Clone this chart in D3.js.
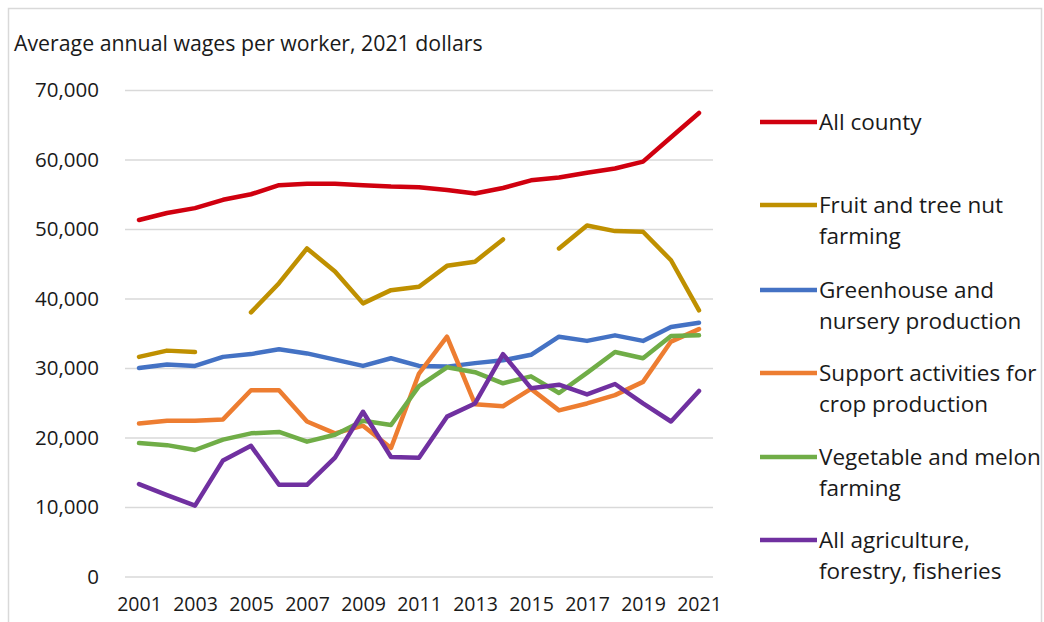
<!DOCTYPE html>
<html>
<head>
<meta charset="utf-8">
<script src="https://cdn.jsdelivr.net/npm/d3@7"></script>
<style>
  html, body { margin: 0; padding: 0; background: #fff; }
  svg { display: block; }
  text { font-family: "Open Sans", Lato, sans-serif; fill: #1a1a1a; }
</style>
</head>
<body>
<svg id="chart" width="1044" height="622"></svg>
<script>
// Years on the category axis
const years = d3.range(2001, 2022);
const yTicks = [0, 10000, 20000, 30000, 40000, 50000, 60000, 70000];

// Average annual wages per worker (2021 dollars); null = not reported
const allCounty = [51300, 52300, 53000, 54200, 55000, 56300, 56500, 56500, 56300, 56100,
                   56000, 55600, 55100, 55900, 57000, 57400, 58100, 58700, 59700, 63200, 66700];
const fruitTreeNut = [31600, 32500, 32300, null, 38000, 42200, 47200, 43900, 39300, 41200,
                      41700, 44700, 45300, 48500, null, 47200, 50500, 49700, 49600, 45500, 38300];
const greenhouse = [30000, 30500, 30300, 31600, 32000, 32700, 32100, 31200, 30300, 31400,
                    30300, 30200, 30700, 31100, 31900, 34500, 33900, 34700, 33900, 35900, 36500];
const supportCrop = [22000, 22400, 22400, 22600, 26800, 26800, 22300, 20600, 21700, 18500,
                     29200, 34500, 24800, 24500, 27000, 23900, 24900, 26100, 28000, 33800, 35600];
const vegetableMelon = [19200, 18900, 18200, 19700, 20600, 20800, 19400, 20400, 22400, 21800,
                        27400, 30100, 29400, 27800, 28800, 26400, 29300, 32300, 31400, 34600, 34700];
const allAgriculture = [13300, 11700, 10200, 16700, 18800, 13200, 13200, 17100, 23700, 17200,
                        17100, 23000, 24900, 32000, 27100, 27600, 26200, 27700, 24900, 22300, 26700];

const series = [
  { name: ["All county"], values: allCounty, color: "#d0000f" },
  { name: ["Fruit and tree nut", "farming"], values: fruitTreeNut, color: "#bf9000" },
  { name: ["Greenhouse and", "nursery production"], values: greenhouse, color: "#4472c4" },
  { name: ["Support activities for", "crop production"], values: supportCrop, color: "#ed7d31" },
  { name: ["Vegetable and melon", "farming"], values: vegetableMelon, color: "#70ad47" },
  { name: ["All agriculture,", "forestry, fisheries"], values: allAgriculture, color: "#7030a0" }
];

const svg = d3.select("#chart");

// Outer chart frame
svg.append("rect")
  .attr("x", 8.5).attr("y", 8.5)
  .attr("width", 1033).attr("height", 640)
  .attr("fill", "#fff")
  .attr("stroke", "#d9d9d9").attr("stroke-width", 1.5);

const plot = { left: 125, right: 713, top: 90, bottom: 576.5 };

const x = d3.scalePoint()
  .domain(years)
  .range([plot.left, plot.right])
  .padding(0.5);

const y = d3.scaleLinear()
  .domain([0, 70000])
  .range([plot.bottom, plot.top]);

// Title
svg.append("text")
  .attr("x", 14).attr("y", 51)
  .style("font-size", "21.3px")
  .text("Average annual wages per worker, 2021 dollars");

// Horizontal gridlines + y labels
const yAxis = d3.axisLeft(y)
  .tickValues(yTicks)
  .tickSize(-(plot.right - plot.left))
  .tickPadding(26)
  .tickFormat(d3.format(","));

const gy = svg.append("g")
  .attr("transform", `translate(${plot.left},0)`)
  .call(yAxis);
gy.select(".domain").remove();
gy.selectAll(".tick line").attr("stroke", "#d9d9d9").attr("stroke-width", 1.5);
gy.selectAll(".tick text")
  .style("font-size", "20.5px")
  .attr("fill", "#1a1a1a");

// Category axis labels (every other year)
const xAxis = d3.axisBottom(x)
  .tickValues(years.filter((d, i) => i % 2 === 0))
  .tickSize(0)
  .tickPadding(21)
  .tickFormat(d3.format("d"));

const gx = svg.append("g")
  .attr("transform", `translate(0,${plot.bottom})`)
  .call(xAxis);
gx.select(".domain").remove();
gx.selectAll(".tick text")
  .style("font-size", "19.5px")
  .attr("fill", "#1a1a1a");

// Series lines
const line = d3.line()
  .defined(d => d.v !== null)
  .x(d => x(d.year))
  .y(d => y(d.v));

svg.append("g")
  .selectAll("path")
  .data(series)
  .join("path")
  .attr("d", s => line(s.values.map((v, i) => ({ year: years[i], v }))))
  .attr("fill", "none")
  .attr("stroke", s => s.color)
  .attr("stroke-width", 4.5)
  .attr("stroke-linejoin", "round")
  .attr("stroke-linecap", "round");

// Legend
const legendY = [122, 205, 290, 373, 457, 540];
const legend = svg.append("g")
  .selectAll("g")
  .data(series)
  .join("g")
  .attr("transform", (s, i) => `translate(760,${legendY[i]})`);

legend.append("line")
  .attr("x1", 0).attr("x2", 57)
  .attr("stroke", s => s.color)
  .attr("stroke-width", 4.5);

legend.append("text")
  .attr("x", 59)
  .attr("y", 8)
  .style("font-size", "22.5px")
  .selectAll("tspan")
  .data(s => s.name)
  .join("tspan")
  .attr("x", 59)
  .attr("dy", (d, i) => i === 0 ? 0 : 31)
  .text(d => d);
</script>
</body>
</html>
